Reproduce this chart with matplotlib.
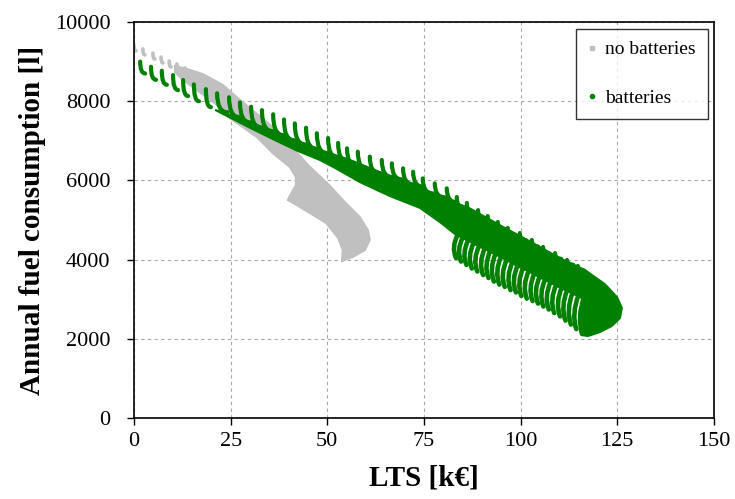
import matplotlib
matplotlib.use("Agg")
import matplotlib.pyplot as plt
from matplotlib.path import Path
from matplotlib.patches import PathPatch, Polygon
from matplotlib.lines import Line2D

plt.rcParams['font.family'] = ['Liberation Serif', 'DejaVu Serif']

# ---- data (LTS in kEUR, fuel in litres) ----
# "no batteries": small separate hooks at the top-left, then one dense cloud
gray_hook_top_x = [0.0, 2.3, 4.9, 7.0, 9.1, 11.1, 13.2]
gray_hook_top_y = [9420, 9320, 9215, 9115, 9015, 8940, 8840]
gray_hook_end_x = [0.5, 2.8, 5.4, 7.5, 9.6, 11.6, 13.7]
gray_hook_end_y = [9270, 9170, 9065, 8965, 8865, 8790, 8690]

gray_cloud_x = [10.6, 14.5, 17.8, 23.0, 27.4, 33.1, 38.3, 41.6, 45.0, 50.7, 54.0,
                58.4, 60.5, 61.0, 59.7, 56.6, 53.8, 54.0, 52.8, 49.7, 45.5, 41.6,
                39.8, 40.3, 41.9, 41.9, 40.3, 35.9, 31.8, 24.8, 21.5, 16.3, 12.7, 10.6]
gray_cloud_y = [8890, 8790, 8685, 8410, 8030, 7575, 7145, 6765, 6390, 5860, 5505,
                5075, 4745, 4495, 4240, 4065, 3965, 4240, 4545, 4925, 5175, 5405,
                5505, 5605, 5885, 6085, 6340, 6690, 7095, 7575, 7905, 8280, 8535, 8735]

# "batteries": upper row of hooks (one per strand)
hook_top_x = [1.6, 4.4, 7.2, 10.1, 12.7, 15.5, 18.6, 21.5, 24.6, 27.4, 30.3, 33.1, 36.0, 38.8,
              41.6, 44.5, 47.3, 50.2, 52.8, 55.1, 57.9, 61.0, 64.1, 66.7, 69.6, 72.2, 74.7,
              77.8, 80.9, 83.5, 86.1, 89.0, 91.5, 94.1, 96.7, 99.8, 102.9, 105.8, 108.9,
              112.0, 114.8]
hook_top_y = [9000, 8870, 8770, 8660, 8535, 8425, 8305, 8200, 8100, 7970, 7860, 7775, 7670,
              7540, 7440, 7330, 7190, 7070, 6945, 6810, 6725, 6600, 6515, 6430, 6305, 6220,
              6050, 5925, 5800, 5580, 5430, 5250, 5100, 4950, 4800, 4670, 4495, 4320, 4165,
              3990, 3840]
hook_end_x = [2.9, 5.7, 8.5, 11.4, 14.0, 16.8, 19.9, 24.2, 27.3, 30.1, 33.0, 35.8, 38.7, 41.5,
              44.3, 47.2, 50.0, 52.9, 55.5, 57.8, 60.6, 63.7, 66.8, 69.4, 72.3, 74.9, 77.4,
              80.5, 83.6, 85.1, 87.7, 90.6, 93.1, 95.7, 98.3, 101.4, 104.5, 107.4, 110.5,
              113.6, 116.4]
hook_end_y = [8700, 8540, 8415, 8280, 8130, 8000, 7850, 7720, 7595, 7465, 7330, 7245, 7140,
              7010, 6910, 6800, 6685, 6565, 6465, 6355, 6270, 6170, 6085, 6025, 5900, 5840,
              5670, 5570, 5445, 5300, 5170, 5000, 4870, 4750, 4600, 4490, 4330, 4160, 4020,
              3870, 3720]

# "batteries": dense middle band
band_x = [21.0, 30.0, 36.0, 42.0, 48.1, 55.9, 63.6, 71.4, 79.1, 86.9, 94.6, 102.4, 110.2,
          116.6, 121.8, 124.9, 126.2, 125.7, 123.6, 120.5, 117.4, 115.9, 116.4, 113.5, 110.7,
          107.8, 105.0, 102.1, 99.3, 96.5, 93.6, 90.8, 87.9, 85.1, 83.0, 79.1, 74.0, 66.2,
          58.4, 52.0, 48.1, 42.0, 36.0, 30.0]
band_y = [7780, 7470, 7240, 7000, 6770, 6515, 6210, 5910, 5600, 5290, 4870, 4460, 4030,
          3740, 3380, 3055, 2780, 2525, 2325, 2170, 2070, 2095, 3000, 3140, 3270, 3410,
          3550, 3700, 3830, 3980, 4130, 4260, 4400, 4540, 4650, 4950, 5305, 5605, 5960,
          6315, 6515, 6760, 7040, 7330]

# "batteries": lower arcs hanging below the band
arc_top_x = [83.8, 85.1, 86.5, 87.9, 89.4, 90.8, 92.2, 93.6, 95.0, 96.5, 97.9, 99.3,
             100.7, 102.2, 103.6, 105.0, 106.4, 107.8, 109.3, 110.7, 112.1, 113.5, 115.0, 116.4]
arc_top_y = [4645, 4570, 4505, 4430, 4370, 4295, 4230, 4165, 4090, 4015, 3940, 3865,
             3800, 3735, 3660, 3585, 3510, 3445, 3385, 3310, 3245, 3180, 3105, 3055]
arc_bot_x = [83.3, 84.6, 86.0, 87.4, 88.8, 90.3, 91.7, 93.1, 94.5, 95.9, 97.4, 98.8,
             100.2, 101.6, 103.1, 104.5, 105.9, 107.3, 108.7, 110.2, 111.6, 113.0, 114.4, 115.9]
arc_bot_y = [4040, 3950, 3865, 3775, 3700, 3610, 3535, 3445, 3370, 3310, 3230, 3170,
             3080, 3015, 2955, 2890, 2815, 2740, 2650, 2565, 2460, 2360, 2245, 2120]

x_ticks = [0, 25, 50, 75, 100, 125, 150]
y_ticks = [0, 2000, 4000, 6000, 8000, 10000]

GRAY = '#c0c0c0'
GREEN = '#008000'


def draw_curve(ax, p0, c, p1, color, lw, z):
    path = Path([p0, c, p1], [Path.MOVETO, Path.CURVE3, Path.CURVE3])
    ax.add_patch(PathPatch(path, fill=False, edgecolor=color, lw=lw,
                           capstyle='round', joinstyle='round', zorder=z))


fig = plt.figure(figsize=(7.35, 4.99), dpi=100)
ax = fig.add_axes([0.1823, 0.1623, 0.789, 0.7936])

# no batteries
ax.add_patch(Polygon(list(zip(gray_cloud_x, gray_cloud_y)), closed=True,
                     facecolor=GRAY, edgecolor=GRAY, lw=1.5, zorder=2))
for tx, ty, ex, ey in zip(gray_hook_top_x, gray_hook_top_y, gray_hook_end_x, gray_hook_end_y):
    draw_curve(ax, (tx, ty), (tx, ey), (ex, ey), GRAY, 2.6, 2)

# batteries
ax.add_patch(Polygon(list(zip(band_x, band_y)), closed=True,
                     facecolor=GREEN, edgecolor=GREEN, lw=1.5, zorder=3))
for tx, ty, ex, ey in zip(hook_top_x, hook_top_y, hook_end_x, hook_end_y):
    draw_curve(ax, (tx, ty), (tx, ey), (ex, ey), GREEN, 3.0, 4)
for tx, ty, bx, by in zip(arc_top_x, arc_top_y, arc_bot_x, arc_bot_y):
    draw_curve(ax, (tx, ty), (bx - 1.3, by + 0.45 * (ty - by)), (bx, by), GREEN, 3.3, 4)

ax.set_xlim(0, 150)
ax.set_ylim(0, 10000)
ax.set_xticks(x_ticks)
ax.set_yticks(y_ticks)
ax.tick_params(labelsize=16, direction='out', length=5, width=1)
ax.tick_params(axis='y', pad=12)
ax.tick_params(axis='x', pad=5)
ax.grid(True, color='#a8a8a8', linestyle=(0, (3, 3)), linewidth=0.8)
ax.set_axisbelow(True)
for s in ax.spines.values():
    s.set_linewidth(1.2)

ax.set_xlabel('LTS [k€]', fontsize=21, fontweight='bold', labelpad=10)
ax.set_ylabel('Annual fuel consumption [l]', fontsize=21, fontweight='bold', labelpad=6)

handles = [Line2D([], [], ls='none', marker='s', ms=3, color=GRAY, label='no batteries'),
           Line2D([], [], ls='none', marker='o', ms=3, color=GREEN, label='batteries')]
leg = ax.legend(handles=handles, loc='upper right', bbox_to_anchor=(0.989, 0.982),
                fontsize=14, frameon=True, fancybox=False, edgecolor='black',
                handlelength=0.4, handletextpad=0.5, labelspacing=1.6,
                borderpad=0.6, borderaxespad=0)
leg.get_frame().set_linewidth(1.0)

fig.savefig('out.png', dpi=100)
